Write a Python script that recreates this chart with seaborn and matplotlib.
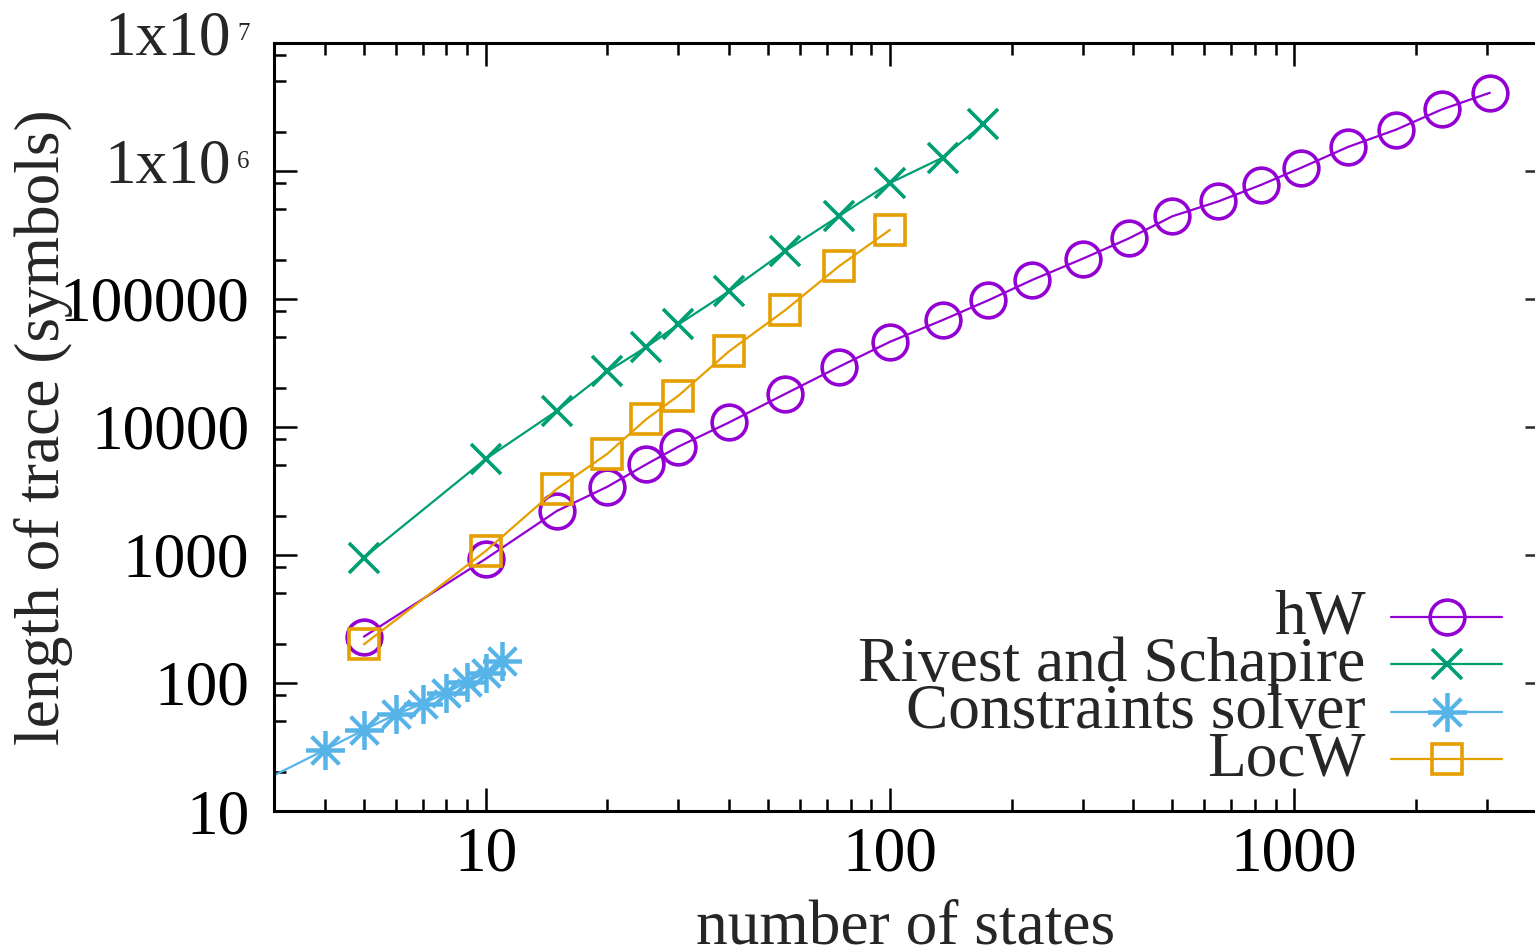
import numpy as np
import pandas as pd
import matplotlib
matplotlib.use("Agg")
import matplotlib.pyplot as plt
import matplotlib.transforms as mtransforms
import seaborn as sns
from matplotlib.ticker import FixedLocator, LogLocator, FuncFormatter, NullFormatter

# ---------------- data ----------------
hw_states = [5, 10, 15, 20, 25, 30, 40, 55, 75, 100, 135, 175, 225, 300, 390,
             500, 650, 830, 1040, 1360, 1790, 2320, 3050]
hw_length = [230, 930, 2200, 3400, 5100, 7000, 10800, 18000, 29500, 46000,
             68000, 97000, 140000, 205000, 295000, 440000, 575000, 775000,
             1.05e6, 1.53e6, 2.09e6, 3.0e6, 4.05e6]

rs_states = [5, 10, 15, 20, 25, 30, 40, 55, 75, 100, 135, 170]
rs_length = [950, 5600, 13300, 27000, 42000, 63000, 114000, 235000, 443000,
             800000, 1.26e6, 2.3e6]

cs_states = [2, 4, 5, 6, 7, 8, 9, 10, 11]
cs_length = [10, 30, 43, 57, 69, 84, 102, 120, 147]

lw_states = [5, 10, 15, 20, 25, 30, 40, 55, 75, 100]
lw_length = [200, 1070, 3270, 6150, 11500, 17500, 38800, 81000, 180000, 344000]

series_names = ["hW", "Rivest and Schapire", "Constraints solver", "LocW"]
series_colors = ["#9400d3", "#009e73", "#56b4e9", "#e69f00"]

x_major_ticks = [10, 100, 1000]
x_tick_labels = ["10", "100", "1000"]
x_minor_subs = [2, 3, 4, 5, 6, 7, 8, 9]
y_major_ticks = [10, 100, 1000, 10000, 100000, 1e6, 1e7]
y_tick_labels = ["10", "100", "1000", "10000", "100000", "1x10", "1x10"]
y_tick_exponents = ["", "", "", "", "", "6", "7"]
y_minor_subs = [2, 5, 8]
x_limits = (3, 4000)
y_limits = (10, 1e7)

x_label = "number of states"
y_label = "length of trace (symbols)"

# ---------------- style ----------------
sns.set_style("ticks")
plt.rcParams["font.family"] = ["Liberation Serif", "DejaVu Serif"]

FS = 45.6
W, H = 1535, 948
fig = plt.figure(figsize=(W / 100, H / 100), dpi=100)
left_px, right_px, top_px, bottom_px = 274.3, 1537.4, 42.5, 811.0
ax = fig.add_axes([left_px / W, 1 - bottom_px / H,
                   (right_px - left_px) / W, (bottom_px - top_px) / H])
ax.set_xscale("log")
ax.set_yscale("log")

frames = {
    "hW": pd.DataFrame({"states": hw_states, "length": hw_length}),
    "Rivest and Schapire": pd.DataFrame({"states": rs_states, "length": rs_length}),
    "Constraints solver": pd.DataFrame({"states": cs_states, "length": cs_length}),
    "LocW": pd.DataFrame({"states": lw_states, "length": lw_length}),
}
marker_styles = {
    "hW": dict(marker="o", ms=25, mew=2.6),
    "Rivest and Schapire": dict(marker="x", ms=22, mew=2.6),
    "Constraints solver": dict(marker=(8, 2, 0), ms=28, mew=2.7),
    "LocW": dict(marker="s", ms=21.5, mew=2.6),
}

for name, color in zip(series_names, series_colors):
    st = marker_styles[name]
    sns.lineplot(data=frames[name], x="states", y="length", ax=ax,
                 estimator=None, sort=False, color=color, lw=1.6,
                 marker=st["marker"], markersize=st["ms"],
                 markerfacecolor="none", markeredgecolor=color,
                 markeredgewidth=st["mew"], label=name, clip_on=True)

ax.set_xlim(*x_limits)
ax.set_ylim(*y_limits)

# ticks
ax.xaxis.set_major_locator(FixedLocator(x_major_ticks))
ax.xaxis.set_major_formatter(FuncFormatter(
    lambda v, p: x_tick_labels[x_major_ticks.index(v)] if v in x_major_ticks else ""))
ax.xaxis.set_minor_locator(LogLocator(base=10, subs=x_minor_subs, numticks=50))
ax.xaxis.set_minor_formatter(NullFormatter())


def y_fmt(v, p):
    if v in y_major_ticks:
        i = y_major_ticks.index(v)
        return y_tick_labels[i] if not y_tick_exponents[i] else ""
    return ""


ax.yaxis.set_major_locator(FixedLocator(y_major_ticks))
ax.yaxis.set_major_formatter(FuncFormatter(y_fmt))
ax.yaxis.set_minor_locator(LogLocator(base=10, subs=y_minor_subs, numticks=50))
ax.yaxis.set_minor_formatter(NullFormatter())

ax.tick_params(axis="both", which="both", direction="in", width=1.8,
               colors="black", labelsize=FS, top=True, right=False)
ax.tick_params(axis="both", which="major", length=16.6)
ax.tick_params(axis="both", which="minor", length=8.3)
ax.tick_params(axis="x", which="major", pad=11)
ax.tick_params(axis="y", which="major", pad=18)

# power-of-ten labels with a small exponent (gnuplot enhanced text look)
ytrans = ax.get_yaxis_transform()
for v, base, ex in zip(y_major_ticks, y_tick_labels, y_tick_exponents):
    if not ex:
        continue
    t_base = mtransforms.offset_copy(ytrans, fig=fig, x=-43, y=-12, units="dots")
    ax.text(0, v, base, transform=t_base, ha="right", va="baseline",
            fontsize=FS, clip_on=False)
    t_exp = mtransforms.offset_copy(ytrans, fig=fig, x=-37, y=2.5, units="dots")
    ax.text(0, v, ex, transform=t_exp, ha="left", va="baseline",
            fontsize=18, clip_on=False)

for sp in ax.spines.values():
    sp.set_linewidth(2.2)
    sp.set_color("black")

# right-hand major ticks only (shorter)
ax2 = ax.twinx()
ax2.set_yscale("log")
ax2.set_ylim(*y_limits)
ax2.yaxis.set_major_locator(FixedLocator(y_major_ticks))
ax2.yaxis.set_minor_locator(FixedLocator([]))
ax2.tick_params(axis="y", which="major", direction="in", length=8.3,
                width=1.8, labelright=False)
for sp in ax2.spines.values():
    sp.set_visible(False)

# axis labels
ax.set_xlabel(x_label, fontsize=FS)
ax.xaxis.set_label_coords(0.5, (bottom_px - 944) / (bottom_px - top_px))
ax.xaxis.label.set_va("baseline")
ax.set_ylabel(y_label, fontsize=FS)
ax.yaxis.set_label_coords((59 - left_px) / (right_px - left_px), 0.5)
ax.yaxis.label.set_va("baseline")

# legend
handles, labels = ax.get_legend_handles_labels()
leg = ax.legend(handles, labels, loc="upper right",
                bbox_to_anchor=(1502 / W, 1 - 589 / H),
                bbox_transform=fig.transFigure, frameon=False, borderpad=0,
                borderaxespad=0, markerfirst=False, handlelength=1.75,
                handleheight=0.1, handletextpad=0.4, labelspacing=-0.17,
                numpoints=1, fontsize=FS)
ax.set_zorder(ax2.get_zorder() + 1)
ax.patch.set_visible(False)

fig.savefig("out.png", dpi=100)
